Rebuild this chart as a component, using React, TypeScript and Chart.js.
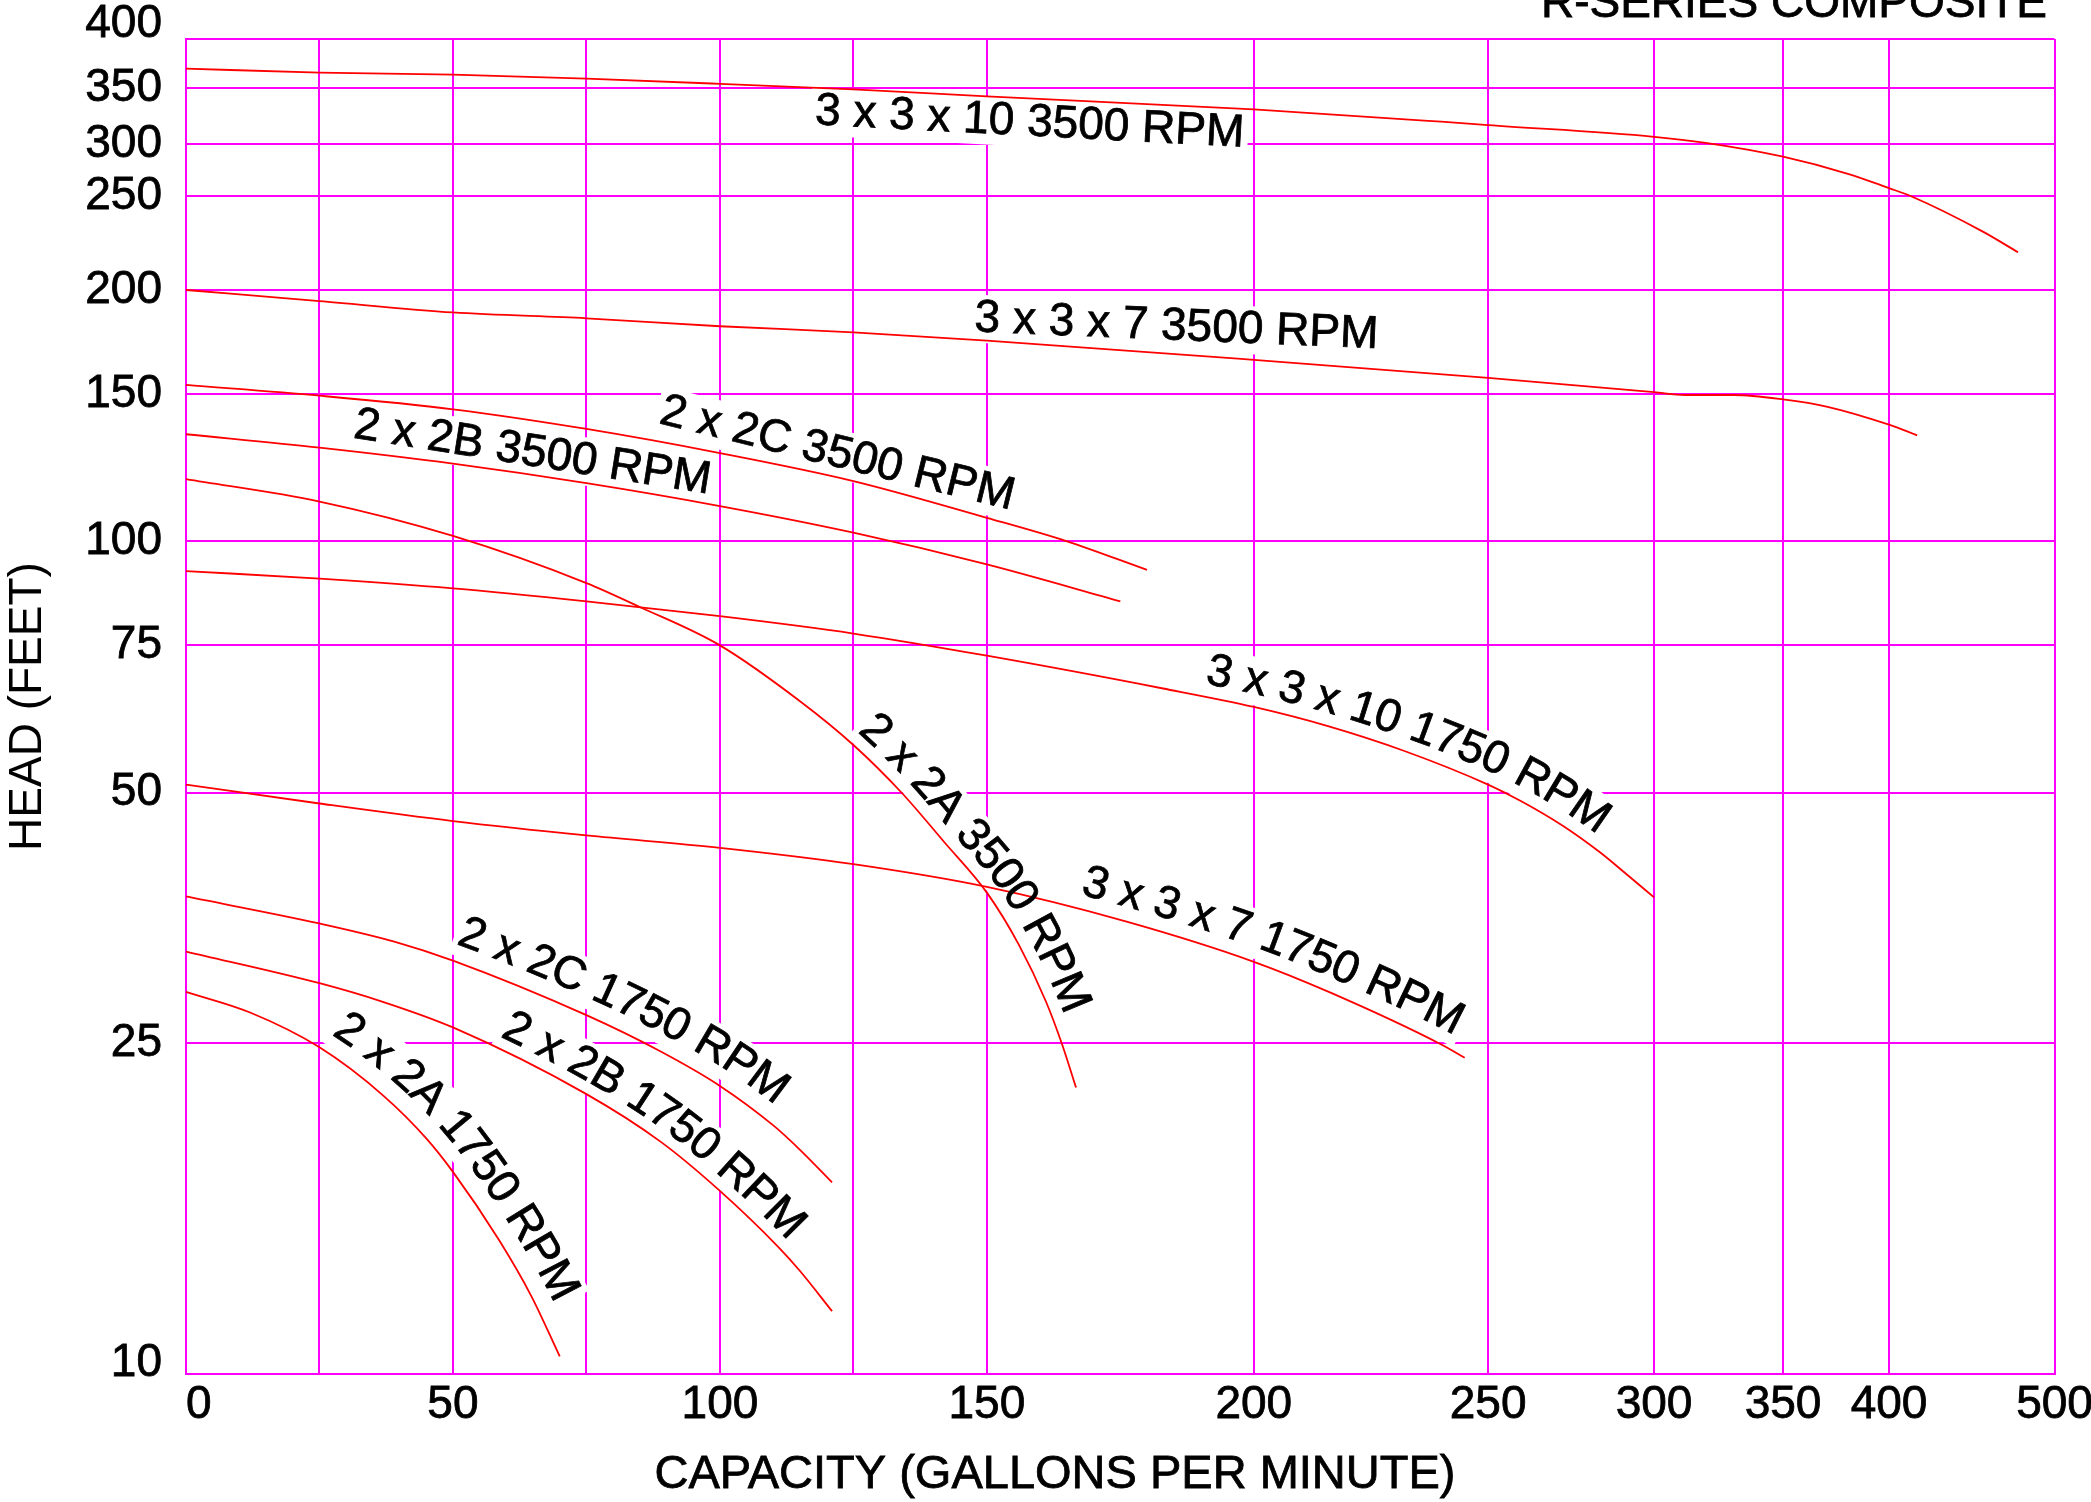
import React, { useEffect, useRef } from 'react';
import { Chart, LinearScale, registerables } from 'chart.js';

Chart.register(...registerables);

const FONT = '"Liberation Sans", Arial, Helvetica, sans-serif';

// ---- axis ticks (gridlines) ----
const X_TICKS = [0, 25, 50, 75, 100, 125, 150, 200, 250, 300, 350, 400, 500];
const X_TICK_LABELS = ['0', '', '50', '', '100', '', '150', '200', '250', '300', '350', '400', '500'];
const Y_TICKS = [10, 25, 50, 75, 100, 150, 200, 250, 300, 350, 400];
const Y_TICK_LABELS = ['10', '25', '50', '75', '100', '150', '200', '250', '300', '350', '400'];

// axis calibration of the printed (non-uniform) grid: relative place of each gridline
const X_TICK_FRACTIONS = [0, 0.07144, 0.14287, 0.21431, 0.28575, 0.35718, 0.42862, 0.57149, 0.69687, 0.78569, 0.85472, 0.91144, 1];
const Y_TICK_FRACTIONS = [0, 0.24794, 0.43558, 0.54577, 0.62375, 0.73371, 0.81199, 0.8824, 0.92135, 0.9633, 1];

// ---- series (capacity GPM / head FT) ----
const CURVE_NAMES = [
  '3 x 3 x 10 3500 RPM',
  '3 x 3 x 7 3500 RPM',
  '2 x 2C 3500 RPM',
  '2 x 2B 3500 RPM',
  '2 x 2A 3500 RPM',
  '3 x 3 x 10 1750 RPM',
  '3 x 3 x 7 1750 RPM',
  '2 x 2C 1750 RPM',
  '2 x 2B 1750 RPM',
  '2 x 2A 1750 RPM',
];

const GPM_3x3x10_3500 = [0, 25, 50, 75, 100, 125, 150, 200, 240, 250, 300, 320, 350, 381, 400, 413, 457, 478];
const HEAD_3x3x10_3500 = [369, 365, 363, 359, 354, 348.6, 342, 330, 319, 316, 306, 301, 287, 270, 257, 250, 229.6, 218.7];

const GPM_3x3x7_3500 = [0, 25, 50, 75, 100, 125, 150, 200, 250, 300, 312, 331, 350, 371, 400, 417];
const HEAD_3x3x7_3500 = [200, 194, 188, 185, 181, 178, 174, 165, 157, 151, 149.8, 149.8, 148, 145, 138, 134];

const GPM_2x2C_3500 = [0, 25, 50, 75, 100, 125, 150, 165, 180];
const HEAD_2x2C_3500 = [154, 149.5, 144, 136.4, 127.6, 118.1, 106.7, 100, 92.4];

const GPM_2x2B_3500 = [0, 25, 50, 75, 100, 125, 150, 175];
const HEAD_2x2B_3500 = [134.4, 129.5, 123.9, 117.4, 110.2, 102.4, 93.8, 84.7];

const GPM_2x2A_3500 = [0, 25, 50, 75, 85, 100, 115, 125, 134, 142, 150, 156, 161, 164, 166.7];
const HEAD_2x2A_3500 = [118.7, 111.6, 101.5, 89.1, 83.4, 75, 64.3, 57, 50, 43.6, 37.9, 32.8, 28.1, 25, 22.1];

const GPM_3x3x10_1750 = [0, 25, 50, 75, 100, 125, 150, 183, 200, 216, 232, 250, 260, 272.5, 283.6, 291, 300];
const HEAD_3x3x10_1750 = [92.1, 90.2, 87.8, 84.7, 81.3, 77.5, 72.9, 66.6, 63.3, 60.0, 56.1, 51.1, 48.8, 45.6, 42.4, 40.1, 37.4];

const GPM_3x3x7_1750 = [0, 25, 50, 75, 100, 125, 150, 176, 200, 216, 240, 245];
const HEAD_3x3x7_1750 = [51.1, 48.5, 46.2, 44.4, 42.9, 41.0, 38.5, 35.0, 31.3, 28.8, 24.9, 24.0];

const GPM_2x2C_1750 = [0, 25, 39, 50, 75, 89, 100, 110, 115, 121];
const HEAD_2x2C_1750 = [37.5, 34.8, 33.1, 31.4, 27, 24.4, 22.2, 19.9, 18.6, 17];

const GPM_2x2B_1750 = [0, 25, 37, 50, 75, 89, 100, 111, 115, 121];
const HEAD_2x2B_1750 = [32.2, 29.5, 28.0, 26.1, 21.7, 19.0, 16.6, 14.2, 13.3, 11.9];

const GPM_2x2A_1750 = [0, 12, 25, 37, 45, 50, 58.6, 64.7, 70];
const HEAD_2x2A_1750 = [28.8, 27.2, 24.7, 21.6, 19.2, 17.5, 14.5, 12.4, 10.5];

const SERIES_GPM = [
  GPM_3x3x10_3500, GPM_3x3x7_3500, GPM_2x2C_3500, GPM_2x2B_3500, GPM_2x2A_3500,
  GPM_3x3x10_1750, GPM_3x3x7_1750, GPM_2x2C_1750, GPM_2x2B_1750, GPM_2x2A_1750,
];
const SERIES_HEAD = [
  HEAD_3x3x10_3500, HEAD_3x3x7_3500, HEAD_2x2C_3500, HEAD_2x2B_3500, HEAD_2x2A_3500,
  HEAD_3x3x10_1750, HEAD_3x3x7_1750, HEAD_2x2C_1750, HEAD_2x2B_1750, HEAD_2x2A_1750,
];

// curve label placement:
//  'straight': centre in data units + angle (deg)
//  'path': text follows its curve; gpm = where the first character sits, offset = px above the curve
const LABEL_PLACEMENT: any[] = [
  { mode: 'straight', gpm: 158, head: 318, angle: 3.0 },
  { mode: 'straight', gpm: 185.5, head: 180.6, angle: 2.4 },
  { mode: 'straight', gpm: 122, head: 127.3, angle: 13.8 },
  { mode: 'straight', gpm: 64.9, head: 127.6, angle: 9.0 },
  { mode: 'path', gpm: 125.9, offset: 25 },
  { mode: 'path', gpm: 192.2, offset: 25.5 },
  { mode: 'path', gpm: 168.9, offset: 27 },
  { mode: 'path', gpm: 51.5, offset: 29.5 },
  { mode: 'path', gpm: 59.2, offset: 24 },
  { mode: 'path', gpm: 27.4, offset: 30 },
];

// ---- a scale that follows the printed, piecewise grid ----
function makeKnotScale(id: string, values: number[], fracs: number[], logInterp: boolean) {
  const tf = (v: number) => (logInterp ? Math.log10(v) : v);
  const tinv = (v: number) => (logInterp ? Math.pow(10, v) : v);
  class KnotScale extends (LinearScale as any) {
    static id = id;
    static defaults = (LinearScale as any).defaults;
    determineDataLimits() {
      this.min = values[0];
      this.max = values[values.length - 1];
    }
    buildTicks() {
      return values.map((v) => ({ value: v }));
    }
    toDecimal(v: number) {
      const n = values.length;
      let i = 0;
      while (i < n - 2 && v > values[i + 1]) i++;
      const a = tf(values[i]);
      const b = tf(values[i + 1]);
      const t = (tf(v) - a) / (b - a);
      return fracs[i] + t * (fracs[i + 1] - fracs[i]);
    }
    fromDecimal(d: number) {
      const n = fracs.length;
      let i = 0;
      while (i < n - 2 && d > fracs[i + 1]) i++;
      const t = (d - fracs[i]) / (fracs[i + 1] - fracs[i]);
      return tinv(tf(values[i]) + t * (tf(values[i + 1]) - tf(values[i])));
    }
    getPixelForValue(value: number) {
      if (value === null || value === undefined || isNaN(value)) return NaN;
      return this.getPixelForDecimal(this.toDecimal(value));
    }
    getValueForPixel(pixel: number) {
      return this.fromDecimal(this.getDecimalForPixel(pixel));
    }
  }
  return KnotScale;
}

const GpmScale = makeKnotScale('gpmGrid', X_TICKS, X_TICK_FRACTIONS, false);
const HeadScale = makeKnotScale('headGrid', Y_TICKS, Y_TICK_FRACTIONS, true);
Chart.register(GpmScale as any, HeadScale as any);

const LABEL_FONT = `46px ${FONT}`;
const TEXT_STROKE = 0.8;

type Glyph = { ch: string; x: number; y: number; angle: number; w: number };

// polyline of the drawn (bezier) curve of one dataset
function curvePolyline(chart: any, di: number) {
  const meta = chart.getDatasetMeta(di);
  const line = meta.dataset;
  if (line && typeof line.updateControlPoints === 'function') line.updateControlPoints(chart.chartArea, 'x');
  const pts = meta.data;
  const out: { x: number; y: number }[] = [];
  for (let k = 0; k < pts.length - 1; k++) {
    const p = pts[k];
    const q = pts[k + 1];
    const c1x = p.cp2x ?? p.x;
    const c1y = p.cp2y ?? p.y;
    const c2x = q.cp1x ?? q.x;
    const c2y = q.cp1y ?? q.y;
    const N = 30;
    for (let j = 0; j < N; j++) {
      const t = j / N;
      const u = 1 - t;
      out.push({
        x: u * u * u * p.x + 3 * u * u * t * c1x + 3 * u * t * t * c2x + t * t * t * q.x,
        y: u * u * u * p.y + 3 * u * u * t * c1y + 3 * u * t * t * c2y + t * t * t * q.y,
      });
    }
  }
  const last = pts[pts.length - 1];
  out.push({ x: last.x, y: last.y });
  return out;
}

function layoutLabel(chart: any, ctx: CanvasRenderingContext2D, i: number): Glyph[] {
  const text = CURVE_NAMES[i];
  const pl = LABEL_PLACEMENT[i];
  const xs = chart.scales.x;
  const ys = chart.scales.y;
  if (pl.mode === 'straight') {
    return [{ ch: text, x: xs.getPixelForValue(pl.gpm), y: ys.getPixelForValue(pl.head), angle: (pl.angle * Math.PI) / 180, w: ctx.measureText(text).width }];
  }
  const poly = curvePolyline(chart, i);
  const d = pl.offset;
  const off: { x: number; y: number; s: number }[] = [];
  for (let k = 0; k < poly.length; k++) {
    const a = poly[Math.max(0, k - 1)];
    const b = poly[Math.min(poly.length - 1, k + 1)];
    let tx = b.x - a.x;
    let ty = b.y - a.y;
    const L = Math.hypot(tx, ty) || 1;
    tx /= L;
    ty /= L;
    off.push({ x: poly[k].x + d * ty, y: poly[k].y - d * tx, s: 0 });
  }
  for (let k = 1; k < off.length; k++) off[k].s = off[k - 1].s + Math.hypot(off[k].x - off[k - 1].x, off[k].y - off[k - 1].y);
  const x0 = xs.getPixelForValue(pl.gpm);
  let ai = 0;
  while (ai < poly.length - 1 && poly[ai].x < x0) ai++;
  const sAnchor = off[ai].s;
  const at = (s: number) => {
    let k = 0;
    while (k < off.length - 2 && off[k + 1].s < s) k++;
    const A = off[k];
    const B = off[k + 1];
    const seg = B.s - A.s || 1;
    const t = (s - A.s) / seg;
    return { x: A.x + t * (B.x - A.x), y: A.y + t * (B.y - A.y), angle: Math.atan2(B.y - A.y, B.x - A.x) };
  };
  const w0 = ctx.measureText(text[0]).width;
  const glyphs: Glyph[] = [];
  for (let k = 0; k < text.length; k++) {
    const ch = text[k];
    const wk = ctx.measureText(ch).width;
    const pre = ctx.measureText(text.slice(0, k)).width;
    const s = sAnchor - w0 / 2 + pre + wk / 2;
    const p = at(s);
    glyphs.push({ ch, x: p.x, y: p.y, angle: p.angle, w: wk });
  }
  return glyphs;
}

const curveLabelPlugin = {
  id: 'curveLabels',
  beforeDatasetsDraw(chart: any) {
    const ctx = chart.ctx;
    ctx.save();
    ctx.font = LABEL_FONT;
    ctx.fillStyle = '#ffffff';
    CURVE_NAMES.forEach((_name, i) => {
      const glyphs = layoutLabel(chart, ctx, i);
      glyphs.forEach((g) => {
        ctx.save();
        ctx.translate(g.x, g.y);
        ctx.rotate(g.angle);
        ctx.fillRect(-g.w / 2 - 4, -24, g.w + 8, 48);
        ctx.restore();
      });
    });
    ctx.restore();
  },
  afterDatasetsDraw(chart: any) {
    const ctx = chart.ctx;
    ctx.save();
    ctx.font = LABEL_FONT;
    ctx.fillStyle = '#000000';
    ctx.strokeStyle = '#000000';
    ctx.lineWidth = TEXT_STROKE;
    ctx.textAlign = 'center';
    ctx.textBaseline = 'middle';
    CURVE_NAMES.forEach((_name, i) => {
      const glyphs = layoutLabel(chart, ctx, i);
      glyphs.forEach((g) => {
        if (g.ch === ' ') return;
        ctx.save();
        ctx.translate(g.x, g.y);
        ctx.rotate(g.angle);
        ctx.fillText(g.ch, 0, 0);
        ctx.strokeText(g.ch, 0, 0);
        ctx.restore();
      });
    });
    ctx.restore();
  },
};

const textPlugin = {
  id: 'pageTexts',
  afterDraw(chart: any) {
    const ctx = chart.ctx;
    ctx.save();
    ctx.fillStyle = '#000000';
    ctx.strokeStyle = '#000000';
    ctx.lineWidth = TEXT_STROKE;
    ctx.font = `46px ${FONT}`;
    ctx.textBaseline = 'alphabetic';
    ctx.textAlign = 'right';
    ctx.fillText('R-SERIES COMPOSITE', 2047, 17);
    ctx.strokeText('R-SERIES COMPOSITE', 2047, 17);
    ctx.textAlign = 'center';
    ctx.font = `47px ${FONT}`;
    ctx.fillText('CAPACITY (GALLONS PER MINUTE)', 1055, 1488);
    ctx.strokeText('CAPACITY (GALLONS PER MINUTE)', 1055, 1488);
    ctx.restore();
  },
};

export default function App() {
  const ref = useRef<HTMLCanvasElement>(null);

  useEffect(() => {
    if (!ref.current) return;
    Chart.defaults.font.family = FONT;
    const datasets = CURVE_NAMES.map((name, i) => ({
      label: name,
      data: SERIES_GPM[i].map((x, j) => ({ x, y: SERIES_HEAD[i][j] })),
      borderColor: '#ff0000',
      backgroundColor: '#ff0000',
      borderWidth: 1.8,
      pointRadius: 0,
      fill: false,
      cubicInterpolationMode: 'monotone',
    }));

    const chart = new Chart(ref.current, {
      type: 'line',
      data: { datasets } as any,
      options: {
        animation: false,
        responsive: false,
        devicePixelRatio: 1,
        events: [],
        layout: { padding: { top: 39, right: 36.5, left: 0, bottom: 0 } },
        plugins: {
          legend: { display: false },
          tooltip: { enabled: false },
          title: { display: false },
        },
        scales: {
          x: {
            type: 'gpmGrid',
            position: 'bottom',
            grid: { color: '#ff00ff', lineWidth: 2, drawTicks: false },
            border: { color: '#ff00ff', width: 2 },
            ticks: {
              autoSkip: false,
              maxRotation: 0,
              minRotation: 0,
              padding: 4,
              color: '#000000',
              textStrokeColor: '#000000',
              textStrokeWidth: TEXT_STROKE,
              font: { family: FONT, size: 46 },
              callback: (_v: any, i: number) => (i === 0 ? '\u2007' + X_TICK_LABELS[0] : X_TICK_LABELS[i]),
            },
            afterFit: (s: any) => {
              s.height = 128;
              s.paddingLeft = 0;
              s.paddingRight = 0;
            },
          },
          y: {
            type: 'headGrid',
            position: 'left',
            grid: { color: '#ff00ff', lineWidth: 2, drawTicks: false },
            border: { color: '#ff00ff', width: 2 },
            ticks: {
              autoSkip: false,
              padding: 24,
              color: '#000000',
              textStrokeColor: '#000000',
              textStrokeWidth: TEXT_STROKE,
              font: (c: any) => {
                const v = c.tick ? c.tick.value : null;
                return {
                  family: FONT,
                  size: 46,
                  lineHeight: v === 400 ? '29px' : v === 10 ? '22px' : 1.2,
                };
              },
              callback: (v: any, i: number) => {
                const lbl = Y_TICK_LABELS[i];
                return v === 400 || v === 10 ? [lbl, ''] : lbl;
              },
            },
            title: {
              display: true,
              text: 'HEAD (FEET)',
              color: '#000000',
              font: { family: FONT, size: 46, lineHeight: 1.2 },
              padding: { top: 1, bottom: 0 },
            },
            afterFit: (s: any) => {
              s.width = 186;
              s.paddingTop = 0;
              s.paddingBottom = 0;
            },
          },
        } as any,
      },
      plugins: [curveLabelPlugin, textPlugin],
    } as any);

    return () => chart.destroy();
  }, []);

  return (
    <div style={{ position: 'absolute', left: 0, top: 0, width: 2091, height: 1502, background: '#ffffff' }}>
      <canvas ref={ref} width={2091} height={1502} style={{ display: 'block', width: 2091, height: 1502 }} />
    </div>
  );
}
